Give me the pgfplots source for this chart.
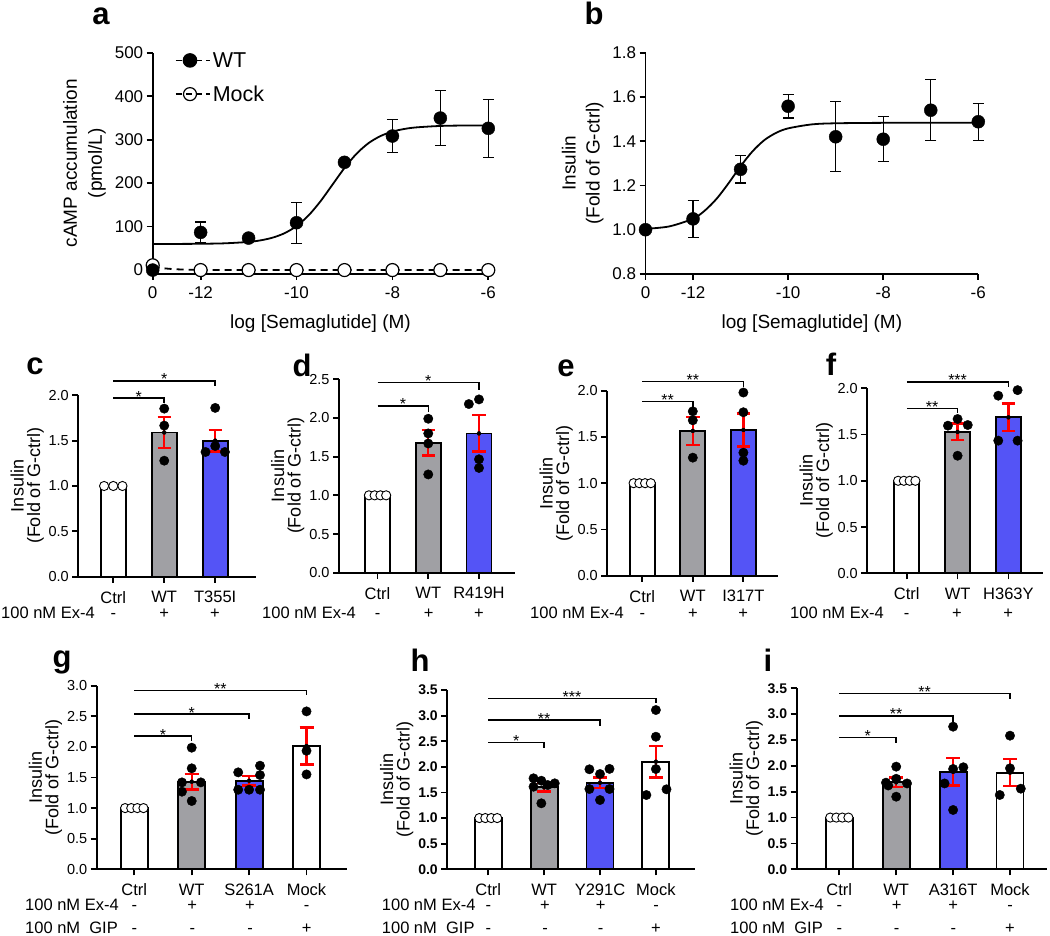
\documentclass[border=0pt]{standalone}
\usepackage{fontspec}
\setmainfont{Liberation Sans}
\usepackage{pgfplots}
\pgfplotsset{compat=1.18}
\definecolor{bgray}{RGB}{160,160,164}
\definecolor{bblue}{RGB}{84,84,246}
\newcommand{\fs}[1]{\fontsize{#1}{#1}\selectfont}
\newcommand{\brk}[6]{%
  \draw[line width=1.5pt] (axis cs:#1,#3) -- (axis cs:#2,#3) -- (axis cs:#2,#4);
  \node[font=\fs{16}, anchor=base, inner sep=0pt, yshift=-4pt] at (axis cs:#5,#3) {#6};}
\pgfplotsset{
  prism/.style={scale only axis, anchor=south west, clip=false,
    axis x line*=bottom, axis y line*=left,
    tick align=outside, tick pos=left,
    axis line style={line width=1.8pt},
    major tick style={line width=1.8pt, black},
    major tick length=6pt,
    /pgf/number format/assume math mode=true},
  barpanel/.style={prism, ymin=0,
    yticklabel style={font=\fs{14.5}, /pgf/number format/fixed, /pgf/number format/fixed zerofill, /pgf/number format/precision=1},
    xticklabel style={font=\fs{16.5}, yshift=-5pt},
    ylabel={Insulin\\(Fold of G-ctrl)},
    ylabel style={font=\fontsize{18}{16.5}\selectfont, align=center}, ylabel shift=-2pt},
  bar/.style={ybar, bar width=#1, bar shift=0pt, draw=black, line width=1.8pt},
  dots/.style={only marks, mark=*, mark size=4.7pt, black},
  odots/.style={only marks, mark=*, mark size=4.6pt, mark options={fill=white, draw=black, line width=0.9pt}},
  err/.style={only marks, mark=none, error bars/.cd, y dir=both, y explicit,
    error bar style={red, line width=2.4pt},
    error mark options={rotate=90, red, line width=2.4pt, mark size=#1}},
}
\begin{document}
\begin{tikzpicture}
\path[use as bounding box] (0pt,0pt) rectangle (1050pt,936pt);

% ---------------- panel a
\begin{axis}[prism, at={(152.7pt,662pt)}, width=335.6pt, height=221.3pt,
  xmin=-13, xmax=-6, ymin=-9, ymax=500,
  xtick={-13,-12,-10,-8,-6}, xticklabels={0,-12,-10,-8,-6},
  ytick={0,100,200,300,400,500},
  tick label style={font=\fs{17}}, xticklabel style={yshift=-3pt},
  xlabel={log [Semaglutide] (M)}, ylabel={cAMP accumulation\\(pmol/L)},
  label style={font=\fontsize{19}{25}\selectfont}, ylabel style={align=center}, ylabel shift=2pt,
  xlabel style={yshift=-9pt},
  legend style={at={(axis cs:-12.535,506)}, anchor=north west, draw=none, fill=none,
    font=\fs{21.5}, row sep=13pt, inner sep=0pt, cells={anchor=west}},
  legend image code/.code={\draw[mark repeat=2,mark phase=2] plot coordinates {(0pt,0pt) (14pt,0pt) (28pt,0pt)}; \path (0pt,0pt) -- (34pt,0pt);}]
\addlegendimage{black, line width=1.6pt, dash pattern=on 6pt off 4pt, mark=*, mark size=6.5pt, mark options={solid}}
\addlegendentry{WT}
\addlegendimage{black, line width=1.6pt, dash pattern=on 6pt off 4pt, mark=*, mark size=6.5pt, mark options={solid, fill=white, line width=1.2pt}}
\addlegendentry{Mock}
\addplot[forget plot, black, line width=1.8pt, smooth] coordinates {
 (-13,60.05) (-12.5,60.15) (-12,60.49) (-11.5,61.53) (-11,64.77) (-10.75,68.37)
 (-10.5,74.54) (-10.25,84.82) (-10,101.22) (-9.75,125.59) (-9.5,158.27) (-9.25,196.5)
 (-9,234.7) (-8.75,267.4) (-8.5,291.8) (-8.25,308.2) (-8,318.5) (-7.75,324.6)
 (-7.5,328.2) (-7,331.5) (-6.5,332.5) (-6,332.8)};
\addplot[forget plot, only marks, mark=*, mark size=6.5pt, mark options={fill=white, draw=black, line width=1.2pt}] coordinates {
 (-13,11) (-12,0) (-11,0) (-10,0) (-9,0) (-8,0) (-7,0) (-6,0)};
\addplot[forget plot, black, line width=1.8pt, dash pattern=on 7pt off 5pt, smooth] coordinates {
 (-13,8) (-12.8,4.5) (-12.5,1.8) (-12,0.4) (-11,0) (-6,0)};
\addplot[forget plot, only marks, mark=*, mark size=6.5pt, black,
  error bars/.cd, y dir=both, y explicit, error bar style={line width=1.2pt},
  error mark options={rotate=90, line width=1.2pt, mark size=5.5pt}] coordinates {
 (-13,0) +- (0,0) (-12,86.7) +- (0,24) (-11,73.6) +- (0,4) (-10,108.9) +- (0,47)
 (-9,247.8) +- (0,5) (-8,308.3) +- (0,38) (-7,349.7) +- (0,62.5) (-6,326) +- (0,67)};
\end{axis}

% ---------------- panel b
\begin{axis}[prism, at={(645.5pt,662pt)}, width=332.8pt, height=221.3pt,
  xmin=-13, xmax=-6, ymin=0.8, ymax=1.8,
  xtick={-13,-12,-10,-8,-6}, xticklabels={0,-12,-10,-8,-6},
  ytick={0.8,1.0,1.2,1.4,1.6,1.8},
  yticklabel style={/pgf/number format/fixed, /pgf/number format/fixed zerofill, /pgf/number format/precision=1},
  tick label style={font=\fs{17}}, xticklabel style={yshift=-3pt},
  xlabel={log [Semaglutide] (M)}, ylabel={Insulin\\(Fold of G-ctrl)},
  label style={font=\fontsize{19}{24}\selectfont}, ylabel style={align=center}, ylabel shift=2pt,
  xlabel style={yshift=-9pt}]
\addplot[black, line width=1.8pt, smooth] coordinates {
 (-13,1.004) (-12.5,1.015) (-12,1.050) (-11.75,1.087) (-11.5,1.141) (-11.25,1.211)
 (-11,1.287) (-10.75,1.354) (-10.5,1.405) (-10.25,1.438) (-10,1.458) (-9.5,1.476)
 (-9,1.481) (-8,1.483) (-7,1.483) (-6,1.483)};
\addplot[only marks, mark=*, mark size=6.5pt, black,
  error bars/.cd, y dir=both, y explicit, error bar style={line width=1.2pt},
  error mark options={rotate=90, line width=1.2pt, mark size=5.5pt}] coordinates {
 (-13,1.0) +- (0,0) (-12,1.049) +- (0,0.083) (-11,1.273) +- (0,0.062) (-10,1.558) +- (0,0.053)
 (-9,1.420) +- (0,0.158) (-8,1.409) +- (0,0.102) (-7,1.540) +- (0,0.138) (-6,1.488) +- (0,0.084)};
\end{axis}

% ---------------- panel c
\begin{axis}[barpanel, at={(78.3pt,359.3pt)}, width=177.7pt, height=181.4pt,
  xmin=-0.686, xmax=2.8, ymax=2, ytick={0,0.5,1,1.5,2},
  xtick={0,1,2}, xticklabels={Ctrl,WT,T355I}]
\addplot[bar=25pt, fill=white] coordinates {(0,1.0)};
\addplot[bar=25pt, fill=bgray] coordinates {(1,1.59)};
\addplot[bar=25pt, fill=bblue] coordinates {(2,1.50)};
\addplot[odots] coordinates {(-0.18,1) (0,1) (0.18,1)};
\addplot[dots] coordinates {(1,1.853) (1,1.666) (1,1.279) (2,1.861) (2,1.441) (1.81,1.375) (2.19,1.375)};
\addplot[err=6.7pt] coordinates {(1,1.59) +- (0,0.173) (2,1.50) +- (0,0.118)};
\brk{0}{2}{2.16}{2.10}{1}{*}
\brk{0}{1}{1.97}{1.91}{0.5}{*}
\end{axis}

% ---------------- panel d
\begin{axis}[barpanel, at={(339pt,363.3pt)}, width=176pt, height=193.4pt,
  xmin=-0.76, xmax=2.71, ymax=2.5, ytick={0,0.5,1,1.5,2,2.5},
  xtick={0,1,2}, xticklabels={Ctrl,WT,R419H}]
\addplot[bar=25pt, fill=white] coordinates {(0,1.0)};
\addplot[bar=25pt, fill=bgray] coordinates {(1,1.68)};
\addplot[bar=25pt, fill=bblue] coordinates {(2,1.80)};
\addplot[odots] coordinates {(-0.17,1) (-0.057,1) (0.057,1) (0.17,1)};
\addplot[dots] coordinates {(1,1.99) (1,1.80) (1,1.67) (1,1.27) (1.8,2.18) (2,2.24) (2,1.466) (2,1.354)};
\addplot[err=6.7pt] coordinates {(1,1.68) +- (0,0.165) (2,1.80) +- (0,0.235)};
\brk{0}{2}{2.457}{2.36}{1}{*}
\brk{0}{1}{2.156}{2.08}{0.5}{*}
\end{axis}

% ---------------- panel e
\begin{axis}[barpanel, at={(607.3pt,360.3pt)}, width=171pt, height=185pt,
  xmin=-0.69, xmax=2.69, ymax=2, ytick={0,0.5,1,1.5,2},
  xtick={0,1,2}, xticklabels={Ctrl,WT,I317T}]
\addplot[bar=25pt, fill=white] coordinates {(0,1.0)};
\addplot[bar=25pt, fill=bgray] coordinates {(1,1.565)};
\addplot[bar=25pt, fill=bblue] coordinates {(2,1.575)};
\addplot[odots] coordinates {(-0.17,1) (-0.057,1) (0.057,1) (0.17,1)};
\addplot[dots] coordinates {(1,1.777) (1,1.68) (1,1.276) (2,1.98) (2,1.767) (2,1.33) (2,1.243)};
\addplot[err=6.7pt] coordinates {(1,1.565) +- (0,0.15) (2,1.575) +- (0,0.18)};
\brk{0}{2}{2.097}{2.04}{1}{**}
\brk{0}{1}{1.881}{1.827}{0.5}{**}
\end{axis}

% ---------------- panel f
\begin{axis}[barpanel, at={(867.3pt,362.7pt)}, width=175.7pt, height=185pt,
  xmin=-0.776, xmax=2.68, ymax=2, ytick={0,0.5,1,1.5,2},
  xtick={0,1,2}, xticklabels={Ctrl,WT,H363Y}]
\addplot[bar=25pt, fill=white] coordinates {(0,1.0)};
\addplot[bar=25pt, fill=bgray] coordinates {(1,1.528)};
\addplot[bar=25pt, fill=bblue] coordinates {(2,1.686)};
\addplot[odots] coordinates {(-0.17,1) (-0.057,1) (0.057,1) (0.17,1)};
\addplot[dots] coordinates {(0.81,1.596) (1,1.668) (1.2,1.603) (1,1.271) (1.8,1.92) (2.18,1.98) (1.8,1.434) (2.18,1.434)};
\addplot[err=6.7pt] coordinates {(1,1.528) +- (0,0.09) (2,1.686) +- (0,0.15)};
\brk{0}{2}{2.07}{2.01}{1}{***}
\brk{0}{1}{1.784}{1.73}{0.5}{**}
\end{axis}

% ---------------- panel g
\begin{axis}[barpanel, at={(96.7pt,66.7pt)}, width=250pt, height=183.6pt,
  xmin=-0.655, xmax=3.70, ymax=3, ytick={0,0.5,1,1.5,2,2.5,3},
  xtick={0,1,2,3}, xticklabels={Ctrl,WT,S261A,Mock}]
\addplot[bar=27pt, fill=white] coordinates {(0,1.0)};
\addplot[bar=27pt, fill=bgray] coordinates {(1,1.431)};
\addplot[bar=27pt, fill=bblue] coordinates {(2,1.447)};
\addplot[bar=27pt, fill=white] coordinates {(3,2.014)};
\addplot[odots] coordinates {(-0.16,1) (-0.053,1) (0.053,1) (0.16,1)};
\addplot[dots] coordinates {(1,1.987) (1,1.65) (0.83,1.42) (1.16,1.42) (0.83,1.268) (1,1.116)
 (1.81,1.584) (2.19,1.693) (2.19,1.54) (1.81,1.30) (2,1.30) (2.19,1.30)
 (3,2.58) (3,1.937) (3,1.55)};
\addplot[err=7pt] coordinates {(1,1.431) +- (0,0.13) (2,1.447) +- (0,0.075) (3,2.014) +- (0,0.30)};
\brk{0}{3}{2.918}{2.847}{1.5}{**}
\brk{0}{2}{2.537}{2.455}{1}{*}
\brk{0}{1}{2.177}{2.096}{0.5}{*}
\end{axis}

% ---------------- panel h
\begin{axis}[barpanel, at={(447.3pt,66.7pt)}, width=247.7pt, height=179.3pt,
  xmin=-0.733, xmax=3.70, ymax=3.5, ytick={0,0.5,1,1.5,2,2.5,3,3.5},
  yticklabel style={font=\bfseries\fs{14}},
  xtick={0,1,2,3}, xticklabels={Ctrl,WT,Y291C,Mock}]
\addplot[bar=27pt, fill=white] coordinates {(0,1.0)};
\addplot[bar=27pt, fill=bgray] coordinates {(1,1.60)};
\addplot[bar=27pt, fill=bblue] coordinates {(2,1.69)};
\addplot[bar=27pt, fill=white] coordinates {(3,2.10)};
\addplot[odots] coordinates {(-0.16,1) (-0.053,1) (0.053,1) (0.16,1)};
\addplot[dots] coordinates {(0.81,1.776) (0.95,1.729) (1.065,1.645) (1.19,1.678) (0.81,1.612) (0.95,1.288)
 (1.81,1.952) (2,1.86) (2.17,1.96) (1.81,1.567) (2.17,1.567) (2,1.352)
 (3,3.109) (3,2.588) (3,1.957) (2.83,1.45) (3.19,1.561)};
\addplot[err=7pt] coordinates {(1,1.60) +- (0,0.08) (2,1.69) +- (0,0.105) (3,2.10) +- (0,0.31)};
\brk{0}{3}{3.337}{3.24}{1.5}{***}
\brk{0}{2}{2.914}{2.797}{1}{**}
\brk{0}{1}{2.471}{2.36}{0.5}{*}
\end{axis}

% ---------------- panel i
\begin{axis}[barpanel, at={(796.7pt,66.7pt)}, width=250pt, height=181pt,
  xmin=-0.749, xmax=3.645, ymax=3.5, ytick={0,0.5,1,1.5,2,2.5,3,3.5},
  yticklabel style={font=\bfseries\fs{14}},
  xtick={0,1,2,3}, xticklabels={Ctrl,WT,A316T,Mock}]
\addplot[bar=27pt, fill=white] coordinates {(0,1.0)};
\addplot[bar=27pt, fill=bgray] coordinates {(1,1.682)};
\addplot[bar=27pt, fill=bblue] coordinates {(2,1.888)};
\addplot[bar=27pt, fill=white] coordinates {(3,1.868)};
\addplot[odots] coordinates {(-0.16,1) (-0.053,1) (0.053,1) (0.16,1)};
\addplot[dots] coordinates {(1,1.985) (1,1.75) (0.82,1.675) (1.19,1.66) (0.86,1.62) (1,1.404)
 (2,2.758) (2,1.94) (2.18,1.973) (1.85,1.66) (2,1.147)
 (3,2.584) (3,1.953) (2.82,1.437) (3.19,1.559)};
\addplot[err=7pt] coordinates {(1,1.682) +- (0,0.095) (2,1.888) +- (0,0.265) (3,1.868) +- (0,0.26)};
\brk{0}{3}{3.404}{3.293}{1.5}{**}
\brk{0}{2}{2.965}{2.855}{1}{**}
\brk{0}{1}{2.553}{2.437}{0.5}{*}
\end{axis}

% ---------------- treatment rows
\begin{scope}[every node/.style={font=\fs{16.5}, inner sep=0pt}]
\node[anchor=base west] at (1pt,317.7pt) {100 nM Ex-4};
\node[anchor=base west] at (262pt,317.7pt) {100 nM Ex-4};
\node[anchor=base west] at (530pt,317.7pt) {100 nM Ex-4};
\node[anchor=base west] at (790pt,317.7pt) {100 nM Ex-4};
\foreach \x/\s in {113.3/-,164.3/+,215/+, 377.7/-,428.7/+,479/+, 642.3/-,693/+,743.3/+, 906.7/-,957/+,1008.3/+}
  \node[anchor=base] at (\x pt,317.7pt) {\s};
\node[anchor=base west] at (25pt,25pt) {100 nM Ex-4};
\node[anchor=base west] at (25pt,2pt) {100 nM\ \ GIP};
\node[anchor=base west] at (381.7pt,25pt) {100 nM Ex-4};
\node[anchor=base west] at (381.7pt,2pt) {100 nM\ \ GIP};
\node[anchor=base west] at (730pt,25pt) {100 nM Ex-4};
\node[anchor=base west] at (730pt,2pt) {100 nM\ \ GIP};
\foreach \x/\s in {134.3/-,192.3/+,250/+,306.7/-, 488.3/-,545/+,600.7/+,656/-, 839.3/-,896.7/+,953.3/+,1010/-}
  \node[anchor=base] at (\x pt,25pt) {\s};
\foreach \x/\s in {134.3/-,192.3/-,250/-,306.7/+, 488.3/-,545/-,600.7/-,656/+, 839.3/-,896.7/-,953.3/-,1010/+}
  \node[anchor=base] at (\x pt,2pt) {\s};
\end{scope}

% ---------------- panel letters
\begin{scope}[every node/.style={font=\bfseries\fs{31}, anchor=base, inner sep=0pt}]
\node at (101pt,911pt) {a};
\node at (594pt,911pt) {b};
\node at (35pt,561pt) {c};
\node at (302pt,559pt) {d};
\node at (566pt,559pt) {e};
\node at (831pt,560pt) {f};
\node at (62pt,268.3pt) {g};
\node at (420pt,264pt) {h};
\node at (768pt,264.3pt) {i};
\end{scope}
\end{tikzpicture}
\end{document}
